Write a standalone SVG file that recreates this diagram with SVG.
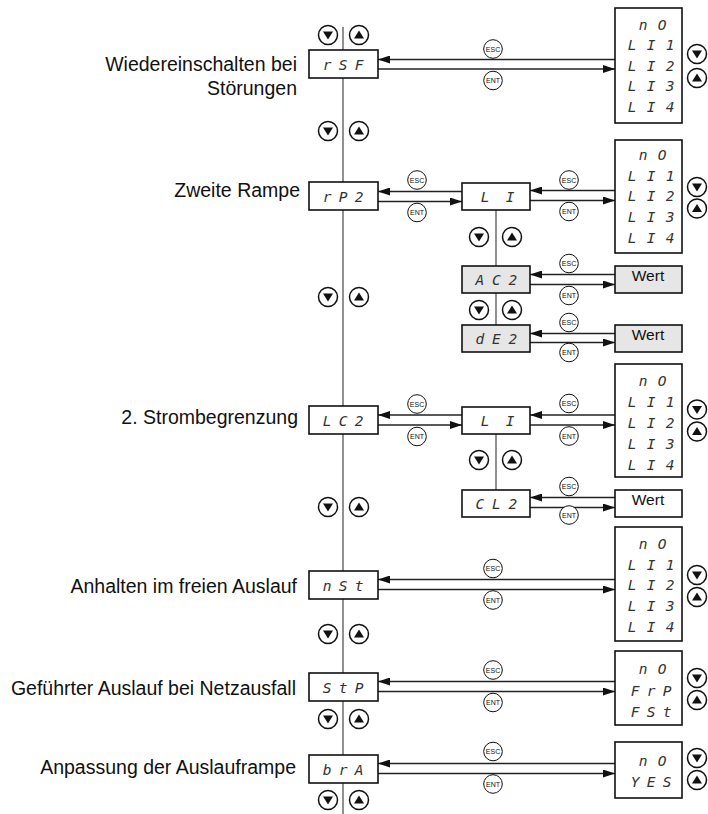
<svg xmlns="http://www.w3.org/2000/svg" width="708" height="814" viewBox="0 0 708 814">
<defs>
<style>
.lbl{font-family:"Liberation Sans",Arial,sans-serif;font-size:19.5px;fill:#111;text-anchor:end}
.box{fill:#fff;stroke:#111;stroke-width:1.6}
.gbox{fill:#e6e6e6;stroke:#111;stroke-width:1.6}
.seg{font-family:"DejaVu Sans Mono",monospace;font-style:oblique;font-size:14.5px;fill:#333;text-anchor:middle}
.wert{font-family:"Liberation Sans",Arial,sans-serif;font-size:15.5px;fill:#111;text-anchor:middle}
.vl{stroke:#555;stroke-width:1.3;fill:none}
.ar{stroke:#222;stroke-width:1.3;fill:none}
.ka{fill:#fff;stroke:#111;stroke-width:1}
.kt{font-family:"Liberation Sans",Arial,sans-serif;font-size:7px;fill:#111;text-anchor:middle}
.bt{fill:#fff;stroke:#111;stroke-width:1.5}
</style>
<marker id="ah" markerUnits="userSpaceOnUse" markerWidth="12" markerHeight="8" refX="12" refY="4" orient="auto">
<path d="M0,0 L12,4 L0,8 z" fill="#111"/>
</marker>
<g id="dn"><circle class="bt" r="9.5"/><path d="M-5,-3.5 L5,-3.5 L0,4.5 z" fill="#111"/></g>
<g id="up"><circle class="bt" r="9.5"/><path d="M-5,3.5 L5,3.5 L0,-4.5 z" fill="#111"/></g>
<g id="esc"><circle class="ka" r="9.3"/><text class="kt" y="2.5">ESC</text></g>
<g id="ent"><circle class="ka" r="9.3"/><text class="kt" y="2.5">ENT</text></g>
</defs>
<rect width="708" height="814" fill="#fff"/>

<g id="connectors">
<line class="vl" x1="343" y1="27" x2="343" y2="814"/>
<line class="vl" x1="496" y1="210" x2="496" y2="325"/>
<line class="vl" x1="496" y1="434" x2="496" y2="490"/>
<line class="ar" x1="615" y1="59.5" x2="378" y2="59.5" marker-end="url(#ah)"/>
<line class="ar" x1="378" y1="69" x2="615" y2="69" marker-end="url(#ah)"/>
<use href="#esc" x="493" y="49"/><use href="#ent" x="493" y="80.5"/>
<line class="ar" x1="462" y1="191.5" x2="378" y2="191.5" marker-end="url(#ah)"/>
<line class="ar" x1="378" y1="201.5" x2="462" y2="201.5" marker-end="url(#ah)"/>
<use href="#esc" x="417" y="180"/><use href="#ent" x="417" y="212.5"/>
<line class="ar" x1="615" y1="190.5" x2="530" y2="190.5" marker-end="url(#ah)"/>
<line class="ar" x1="530" y1="200.5" x2="615" y2="200.5" marker-end="url(#ah)"/>
<use href="#esc" x="569" y="180"/><use href="#ent" x="569" y="211.5"/>
<line class="ar" x1="615" y1="274.5" x2="530" y2="274.5" marker-end="url(#ah)"/>
<line class="ar" x1="530" y1="284.5" x2="615" y2="284.5" marker-end="url(#ah)"/>
<use href="#esc" x="569" y="263.5"/><use href="#ent" x="569" y="295.5"/>
<line class="ar" x1="615" y1="333.5" x2="530" y2="333.5" marker-end="url(#ah)"/>
<line class="ar" x1="530" y1="342.5" x2="615" y2="342.5" marker-end="url(#ah)"/>
<use href="#esc" x="569" y="322.5"/><use href="#ent" x="569" y="352.5"/>
<line class="ar" x1="462" y1="415" x2="378" y2="415" marker-end="url(#ah)"/>
<line class="ar" x1="378" y1="425" x2="462" y2="425" marker-end="url(#ah)"/>
<use href="#esc" x="417" y="404"/><use href="#ent" x="417" y="436.5"/>
<line class="ar" x1="615" y1="415" x2="530" y2="415" marker-end="url(#ah)"/>
<line class="ar" x1="530" y1="425" x2="615" y2="425" marker-end="url(#ah)"/>
<use href="#esc" x="569" y="403.5"/><use href="#ent" x="569" y="436"/>
<line class="ar" x1="615" y1="497.5" x2="530" y2="497.5" marker-end="url(#ah)"/>
<line class="ar" x1="530" y1="507.5" x2="615" y2="507.5" marker-end="url(#ah)"/>
<use href="#esc" x="569" y="486.5"/><use href="#ent" x="569" y="515"/>
<line class="ar" x1="615" y1="579.5" x2="378" y2="579.5" marker-end="url(#ah)"/>
<line class="ar" x1="378" y1="589.5" x2="615" y2="589.5" marker-end="url(#ah)"/>
<use href="#esc" x="493" y="568.5"/><use href="#ent" x="493" y="600"/>
<line class="ar" x1="615" y1="681.5" x2="378" y2="681.5" marker-end="url(#ah)"/>
<line class="ar" x1="378" y1="691.5" x2="615" y2="691.5" marker-end="url(#ah)"/>
<use href="#esc" x="493" y="670"/><use href="#ent" x="493" y="702.5"/>
<line class="ar" x1="615" y1="763.5" x2="378" y2="763.5" marker-end="url(#ah)"/>
<line class="ar" x1="378" y1="773.5" x2="615" y2="773.5" marker-end="url(#ah)"/>
<use href="#esc" x="493" y="751.5"/><use href="#ent" x="493" y="784"/>
</g>

<g id="buttons">
<use href="#dn" x="328" y="35"/><use href="#up" x="359" y="35"/>
<use href="#dn" x="328" y="131"/><use href="#up" x="359" y="131"/>
<use href="#dn" x="328" y="297"/><use href="#up" x="359" y="297"/>
<use href="#dn" x="328" y="507"/><use href="#up" x="359" y="507"/>
<use href="#dn" x="328" y="634"/><use href="#up" x="359" y="634"/>
<use href="#dn" x="328" y="719"/><use href="#up" x="359" y="719"/>
<use href="#dn" x="328" y="800"/><use href="#up" x="359" y="800"/>
<use href="#dn" x="479" y="237"/><use href="#up" x="512" y="237"/>
<use href="#dn" x="479" y="310"/><use href="#up" x="512" y="310"/>
<use href="#dn" x="479" y="460"/><use href="#up" x="512" y="460"/>
<use href="#dn" x="697" y="54"/><use href="#up" x="697" y="78"/>
<use href="#dn" x="697" y="187"/><use href="#up" x="697" y="208.5"/>
<use href="#dn" x="697" y="409.5"/><use href="#up" x="697" y="431.5"/>
<use href="#dn" x="697" y="575"/><use href="#up" x="697" y="597"/>
<use href="#dn" x="697" y="678"/><use href="#up" x="697" y="700"/>
<use href="#dn" x="697" y="758"/><use href="#up" x="697" y="780"/>
</g>

<g id="labels">
<text class="lbl" x="297" y="70.5">Wiedereinschalten bei</text>
<text class="lbl" x="297" y="95">Störungen</text>
<text class="lbl" x="300" y="197">Zweite Rampe</text>
<text class="lbl" x="298" y="423.5">2. Strombegrenzung</text>
<text class="lbl" x="297" y="593">Anhalten im freien Auslauf</text>
<text class="lbl" x="296" y="695">Geführter Auslauf bei Netzausfall</text>
<text class="lbl" x="296" y="774">Anpassung der Auslauframpe</text>
</g>

<g id="n-rSF"><rect class="box" x="309" y="50" width="69" height="28"/><text class="seg" x="346.8" y="69.5" letter-spacing="7.3">rSF</text></g>
<g id="n-rP2"><rect class="box" x="309" y="182" width="69" height="28"/><text class="seg" x="346.8" y="201.5" letter-spacing="7.3">rP2</text></g>
<g id="n-LC2"><rect class="box" x="309" y="406" width="69" height="28"/><text class="seg" x="346.8" y="425.5" letter-spacing="7.3">LC2</text></g>
<g id="n-nSt"><rect class="box" x="309" y="571" width="69" height="28"/><text class="seg" x="346.8" y="590.5" letter-spacing="7.3">nSt</text></g>
<g id="n-StP"><rect class="box" x="309" y="673" width="69" height="28"/><text class="seg" x="346.8" y="692.5" letter-spacing="7.3">StP</text></g>
<g id="n-brA"><rect class="box" x="309" y="755" width="69" height="28"/><text class="seg" x="346.8" y="774.5" letter-spacing="7.3">brA</text></g>

<g id="n-LI-a"><rect class="box" x="462" y="183" width="68" height="27"/><text class="seg" x="505.8" y="202" letter-spacing="16.3">LI</text></g>
<g id="n-AC2"><rect class="gbox" x="462" y="266" width="68" height="27"/><text class="seg" x="500.2" y="285" letter-spacing="7.8">AC2</text></g>
<g id="n-dE2"><rect class="gbox" x="462" y="325" width="68" height="27"/><text class="seg" x="500.2" y="344" letter-spacing="7.8">dE2</text></g>
<g id="n-LI-b"><rect class="box" x="462" y="407" width="68" height="27"/><text class="seg" x="505.8" y="426" letter-spacing="16.3">LI</text></g>
<g id="n-CL2"><rect class="box" x="462" y="490" width="68" height="27"/><text class="seg" x="500.2" y="509" letter-spacing="7.8">CL2</text></g>

<g id="n-list1"><rect class="box" x="615" y="8" width="67" height="115"/>
<text class="seg" x="657.8" y="29.5" letter-spacing="10.3">nO</text>
<text class="seg" x="656.3" y="50" letter-spacing="10.3">LI1</text>
<text class="seg" x="656.3" y="70.5" letter-spacing="10.3">LI2</text>
<text class="seg" x="656.3" y="91" letter-spacing="10.3">LI3</text>
<text class="seg" x="656.3" y="111.5" letter-spacing="10.3">LI4</text></g>
<g id="n-list2"><rect class="box" x="615" y="140" width="67" height="113"/>
<text class="seg" x="657.8" y="159.5" letter-spacing="10.3">nO</text>
<text class="seg" x="656.3" y="180.5" letter-spacing="10.3">LI1</text>
<text class="seg" x="656.3" y="201" letter-spacing="10.3">LI2</text>
<text class="seg" x="656.3" y="221.5" letter-spacing="10.3">LI3</text>
<text class="seg" x="656.3" y="242.5" letter-spacing="10.3">LI4</text></g>
<g id="n-list3"><rect class="box" x="615" y="364" width="67" height="113"/>
<text class="seg" x="657.8" y="385.5" letter-spacing="10.3">nO</text>
<text class="seg" x="656.3" y="406.5" letter-spacing="10.3">LI1</text>
<text class="seg" x="656.3" y="427.5" letter-spacing="10.3">LI2</text>
<text class="seg" x="656.3" y="448.5" letter-spacing="10.3">LI3</text>
<text class="seg" x="656.3" y="469.5" letter-spacing="10.3">LI4</text></g>
<g id="n-list4"><rect class="box" x="615" y="527" width="67" height="114"/>
<text class="seg" x="657.8" y="548.5" letter-spacing="10.3">nO</text>
<text class="seg" x="656.3" y="569.5" letter-spacing="10.3">LI1</text>
<text class="seg" x="656.3" y="590" letter-spacing="10.3">LI2</text>
<text class="seg" x="656.3" y="610.5" letter-spacing="10.3">LI3</text>
<text class="seg" x="656.3" y="631.5" letter-spacing="10.3">LI4</text></g>
<g id="n-list5"><rect class="box" x="615" y="651" width="67" height="74"/>
<text class="seg" x="657.8" y="674" letter-spacing="10.3">nO</text>
<text class="seg" x="654.8" y="695.5" letter-spacing="7.3">FrP</text>
<text class="seg" x="654.8" y="717" letter-spacing="7.3">FSt</text></g>
<g id="n-list6"><rect class="box" x="615" y="742" width="67" height="56"/>
<text class="seg" x="657.8" y="765.5" letter-spacing="10.3">nO</text>
<text class="seg" x="654.8" y="787" letter-spacing="7.3">YES</text></g>

<g id="n-wert1"><rect class="gbox" x="615" y="266" width="67" height="27"/><text class="wert" x="648" y="280.5">Wert</text></g>
<g id="n-wert2"><rect class="gbox" x="615" y="325" width="67" height="27"/><text class="wert" x="648" y="339.5">Wert</text></g>
<g id="n-wert3"><rect class="box" x="615" y="490" width="67" height="27"/><text class="wert" x="648" y="504.5">Wert</text></g>
</svg>
